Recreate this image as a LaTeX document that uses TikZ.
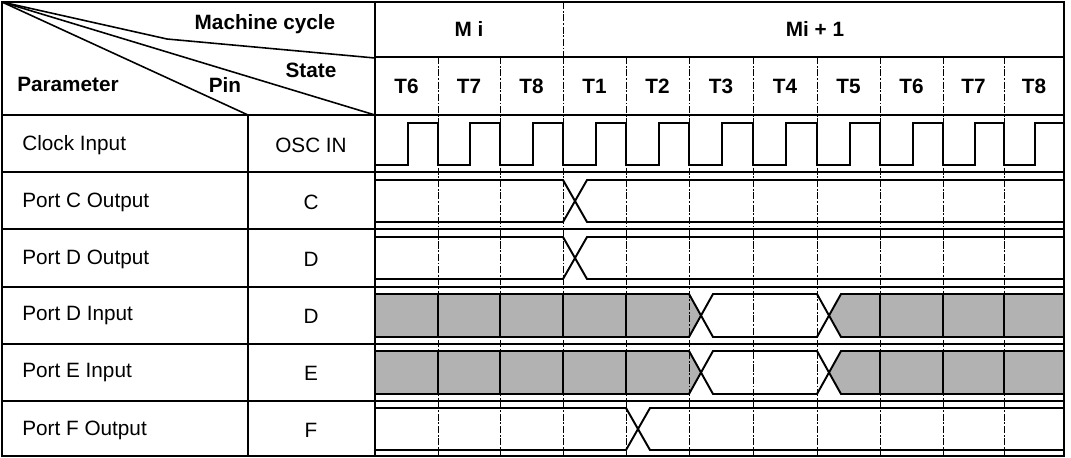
\documentclass[tikz,border=0pt]{standalone}
\usepackage{fontspec}
\setmainfont{Liberation Sans}
\usetikzlibrary{calc}

\tikzset{
  tbl/.style={line width=0.9pt},
  tgrid/.style={line width=0.5pt, dash pattern=on 4pt off 1pt on 1pt off 1pt},
  wave/.style={line width=1.1pt, line join=miter},
  busfill/.style={fill=black!30},
  lbl/.style={font=\fontsize{11.8}{13}\selectfont, inner sep=0pt},
  hdr/.style={font=\fontsize{11.8}{13}\selectfont\bfseries, inner sep=0pt},
}

\begin{document}
\begin{tikzpicture}[x=0.02cm,y=-0.02cm]
\useasboundingbox (0,0) rectangle (1071,457);
% shaded parts of the input buses
\foreach \t in {294,351}
  {
  \fill[busfill] (375,\t) -- (689,\t) -- (701,\t+21.5) -- (689,\t+43) -- (375,\t+43) -- cycle;
  \fill[busfill] (829,\t+21.5) -- (841,\t) -- (1064,\t) -- (1064,\t+43) -- (841,\t+43) -- cycle;
  }
% state grid
\draw[tgrid] (563,2) -- (563,57);
\foreach \x in {438,500,563,626,689,753,817,880,943,1004}
  \draw[tgrid] (\x,57) -- (\x,456);
\foreach \x in {438,500,563,626,880,943,1004}
  \draw[line width=0.8pt] (\x,294) -- (\x,337) (\x,351) -- (\x,394);
% frame
\draw[tbl] (2,2) rectangle (1064,456);
\draw[tbl] (2,115) -- (1064,115);
\draw[tbl] (375,2) -- (375,456);
\draw[tbl] (248,115) -- (248,456);
\draw[tbl] (375,57) -- (1064,57);
\foreach \y in {172,229,287,344,401}
  \draw[tbl] (2,\y) -- (1064,\y);
\draw[tbl] (2,2) -- (167,39) -- (375,58);
\draw[tbl] (2,2) -- (375,115);
\draw[tbl] (2,2) -- (248,115);
% header text
\node[hdr] (cycle) at (265,24) {Machine cycle};
\node[hdr] (state) at (311,70) {State};
\node[hdr] (pin) at (225,85) {Pin};
\node[hdr] (param) at (68,84) {Parameter};
\node[hdr] (mi) at (469,29) {M i};
\node[hdr] (minext) at (815,29) {Mi + 1};
\foreach \a/\b/\t [count=\i] in {375/438/T6,438/500/T7,500/563/T8,563/626/T1,626/689/T2,689/753/T3,753/817/T4,817/880/T5,880/943/T6,943/1004/T7,1004/1064/T8}
  \node[hdr] (st\i) at ({(\a+\b)/2},86) {\t};
% row text
\foreach \r/\name/\port in {0/Clock Input/OSC IN,1/Port C Output/C,2/Port D Output/D,3/Port D Input/D,4/Port E Input/E,5/Port F Output/F}
  {
  \node[lbl, anchor=west] (par\r) at (22,{145+57*\r}) {\name};
  \node[lbl] (pin\r) at (311,{145+57*\r}) {\port};
  }
% clock
\draw[wave] (375,165) \foreach \a/\b in {375/438,438/500,500/563,563/626,626/689,689/753,753/817,817/880,880/943,943/1004}
  { -- ({\a+0.52*(\b-\a)},165) -- ({\a+0.52*(\b-\a)},123) -- (\b,123) -- (\b,165) } -- (1035,165) -- (1035,123) -- (1064,123);
% outputs
\draw[wave] (375,180) -- (563,180) -- (587,222) -- (1064,222);
\draw[wave] (375,222) -- (563,222) -- (587,180) -- (1064,180);
\draw[wave] (375,237) -- (563,237) -- (587,279) -- (1064,279);
\draw[wave] (375,279) -- (563,279) -- (587,237) -- (1064,237);
\draw[wave] (375,408) -- (626,408) -- (650,450) -- (1064,450);
\draw[wave] (375,450) -- (626,450) -- (650,408) -- (1064,408);
% inputs
\foreach \t in {294,351}
  {
  \draw[wave] (375,\t) -- (689,\t) -- (713,\t+43) -- (817,\t+43) -- (841,\t) -- (1064,\t);
  \draw[wave] (375,\t+43) -- (689,\t+43) -- (713,\t) -- (817,\t) -- (841,\t+43) -- (1064,\t+43);
  }
\end{tikzpicture}
\end{document}
